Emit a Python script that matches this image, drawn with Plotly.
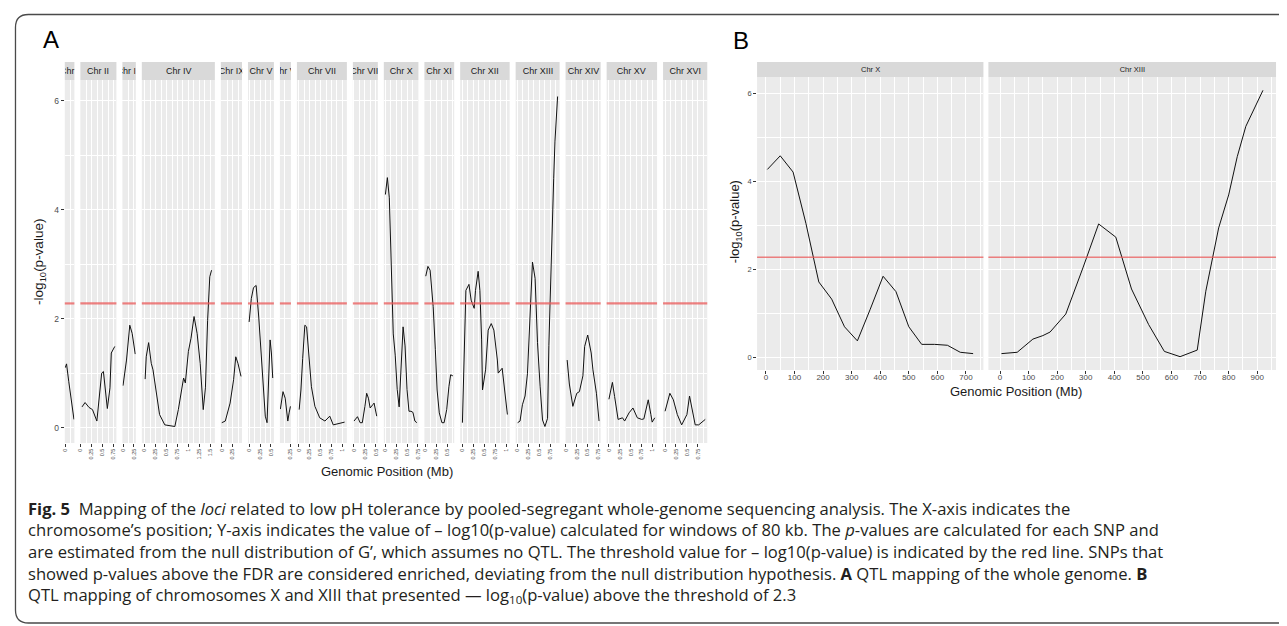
import plotly.graph_objects as go

W, H = 1287, 626
OFF = 8                      # the page body has an 8 px margin
FW, FH = W - OFF, H - OFF    # figure size so the page is exactly filled

# ---------------- data (panel A: position in Mb, value = -log10(p)) ----------------
chromosomes = ["Chr I", "Chr II", "Chr III", "Chr IV", "Chr IX", "Chr V", "Chr VI", "Chr VII",
               "Chr VIII", "Chr X", "Chr XI", "Chr XII", "Chr XIII", "Chr XIV", "Chr XV", "Chr XVI"]

chrI_pos = [0.00, 0.03, 0.08, 0.14, 0.20]
chrI_val = [1.10, 1.17, 0.85, 0.45, 0.15]

chrII_pos = [0.03, 0.10, 0.19, 0.27, 0.37, 0.43, 0.48, 0.52, 0.57, 0.61, 0.67, 0.70, 0.78]
chrII_val = [0.38, 0.46, 0.37, 0.33, 0.12, 0.55, 1.00, 1.03, 0.64, 0.35, 0.73, 1.37, 1.49]

chrIII_pos = [0.00, 0.04, 0.08, 0.155, 0.21, 0.28]
chrIII_val = [0.77, 0.98, 1.24, 1.88, 1.73, 1.35]

chrIV_pos = [0.01, 0.035, 0.09, 0.15, 0.19, 0.27, 0.34, 0.46, 0.62, 0.69, 0.77, 0.85, 0.89, 0.93,
             1.00, 1.06, 1.13, 1.20, 1.27, 1.34, 1.39, 1.44, 1.49, 1.53]
chrIV_val = [0.89, 1.30, 1.56, 1.18, 1.06, 0.57, 0.24, 0.05, 0.02, 0.02, 0.33, 0.75, 0.91, 0.82,
             1.40, 1.64, 2.04, 1.73, 1.18, 0.33, 0.73, 1.97, 2.77, 2.89]

chrIX_pos = [0.00, 0.08, 0.19, 0.27, 0.32, 0.37, 0.44]
chrIX_val = [0.09, 0.12, 0.45, 0.88, 1.30, 1.18, 0.94]

chrV_pos = [0.00, 0.05, 0.10, 0.16, 0.22, 0.30, 0.37, 0.41, 0.45, 0.48, 0.51, 0.54]
chrV_val = [1.94, 2.37, 2.57, 2.61, 2.03, 1.00, 0.21, 0.09, 0.88, 1.61, 1.37, 0.91]

chrVI_pos = [0.02, 0.08, 0.13, 0.19, 0.22, 0.25]
chrVI_val = [0.34, 0.66, 0.54, 0.12, 0.27, 0.39]

chrVII_pos = [0.01, 0.05, 0.09, 0.14, 0.18, 0.23, 0.29, 0.37, 0.48, 0.60, 0.71, 0.79, 0.90, 1.05]
chrVII_val = [0.33, 0.69, 1.27, 1.88, 1.85, 1.31, 0.75, 0.39, 0.18, 0.12, 0.21, 0.05, 0.07, 0.10]

chrVIII_pos = [0.00, 0.08, 0.14, 0.19, 0.25, 0.29, 0.33, 0.37, 0.43, 0.46, 0.52]
chrVIII_val = [0.12, 0.20, 0.09, 0.09, 0.39, 0.63, 0.54, 0.36, 0.42, 0.45, 0.21]

# chromosome X and XIII (also shown in panel B, position in kb as plotted there)
chrX_kb = [5, 50, 95, 140, 185, 230, 275, 320, 365, 410, 455, 500, 545, 590, 635, 680, 725]
chrX_val = [4.28, 4.59, 4.22, 3.05, 1.72, 1.33, 0.70, 0.38, 1.10, 1.85, 1.50, 0.70, 0.30, 0.30,
            0.28, 0.12, 0.09]

chrXI_pos = [0.01, 0.06, 0.11, 0.18, 0.23, 0.27, 0.32, 0.38, 0.43, 0.49, 0.54, 0.58, 0.63]
chrXI_val = [2.78, 2.96, 2.89, 2.22, 1.43, 0.69, 0.27, 0.09, 0.09, 0.33, 0.75, 0.97, 0.95]

chrXII_pos = [0.00, 0.08, 0.15, 0.20, 0.27, 0.30, 0.36, 0.40, 0.44, 0.46, 0.53, 0.59, 0.66, 0.72,
              0.80, 0.82, 0.91, 0.97, 1.03]
chrXII_val = [0.09, 2.52, 2.63, 2.34, 2.19, 2.52, 2.87, 2.52, 1.61, 0.69, 1.06, 1.79, 1.91, 1.79,
              1.24, 1.00, 1.09, 0.63, 0.24]

chrXIII_kb = [5, 60, 115, 150, 175, 230, 290, 345, 405, 460, 520, 575, 630, 690, 720, 765, 800,
              830, 860, 885, 920]
chrXIII_val = [0.09, 0.12, 0.42, 0.50, 0.58, 0.99, 2.04, 3.04, 2.74, 1.56, 0.75, 0.14, 0.02, 0.17,
               1.51, 2.95, 3.70, 4.57, 5.26, 5.60, 6.08]

chrXIV_pos = [0.03, 0.08, 0.16, 0.25, 0.31, 0.39, 0.43, 0.50, 0.58, 0.62, 0.70, 0.76]
chrXIV_val = [1.24, 0.80, 0.39, 0.63, 0.66, 0.95, 1.49, 1.70, 1.37, 1.06, 0.63, 0.12]

chrXV_pos = [0.00, 0.08, 0.13, 0.21, 0.31, 0.36, 0.46, 0.55, 0.65, 0.75, 0.80, 0.90, 0.96, 0.99, 1.05]
chrXV_val = [0.52, 0.83, 0.57, 0.15, 0.18, 0.12, 0.27, 0.36, 0.18, 0.15, 0.16, 0.51, 0.24, 0.10, 0.18]

chrXVI_pos = [0.00, 0.11, 0.19, 0.28, 0.38, 0.50, 0.56, 0.61, 0.69, 0.77, 0.84, 0.92]
chrXVI_val = [0.30, 0.63, 0.51, 0.24, 0.05, 0.24, 0.58, 0.39, 0.05, 0.05, 0.10, 0.15]

threshold = 2.28

panelB_chromosomes = ["Chr X", "Chr XIII"]

caption_lines = [
    "<b>Fig. 5</b>  Mapping of the <i>loci</i> related to low pH tolerance by pooled-segregant whole-genome sequencing analysis. The X-axis indicates the",
    "chromosome’s position; Y-axis indicates the value of – log10(p-value) calculated for windows of 80 kb. The <i>p</i>-values are calculated for each SNP and",
    "are estimated from the null distribution of G’, which assumes no QTL. The threshold value for – log10(p-value) is indicated by the red line. SNPs that",
    "showed p-values above the FDR are considered enriched, deviating from the null distribution hypothesis. <b>A</b> QTL mapping of the whole genome. <b>B</b>",
    "QTL mapping of chromosomes X and XIII that presented — log<sub>10</sub>(p-value) above the threshold of 2.3",
]

panelA_series = [
    (chrI_pos, chrI_val), (chrII_pos, chrII_val), (chrIII_pos, chrIII_val), (chrIV_pos, chrIV_val),
    (chrIX_pos, chrIX_val), (chrV_pos, chrV_val), (chrVI_pos, chrVI_val), (chrVII_pos, chrVII_val),
    (chrVIII_pos, chrVIII_val), ([v / 1000 for v in chrX_kb], chrX_val), (chrXI_pos, chrXI_val),
    (chrXII_pos, chrXII_val), ([v / 1000 for v in chrXIII_kb], chrXIII_val),
    (chrXIV_pos, chrXIV_val), (chrXV_pos, chrXV_val), (chrXVI_pos, chrXVI_val),
]
panelB_series = [(chrX_kb, chrX_val), (chrXIII_kb, chrXIII_val)]

# ---------------- helpers (page pixel -> paper coordinates) ----------------
def px(x):
    return (x - OFF) / FW


def py(y):
    return 1 - (y - OFF) / FH


FONT = "Liberation Sans, Arial, sans-serif"
GRID = "white"
BG = "#EBEBEB"
STRIP = "#D9D9D9"
TICKC = "#4D4D4D"

fig = go.Figure()
layout = {}
shapes = []
annotations = []


def expanded(lo, hi):
    r = hi - lo
    return [lo - 0.05 * r, hi + 0.05 * r]


def build_row(series, names, left, right, gap, top, bot, strip_top, first_index,
              xopts, yopts, strip_font, thr_width, line_width):
    exts = [max(s[0]) - min(s[0]) for s in series]
    total = right - left - gap * (len(series) - 1)
    scale = total / sum(e * 1.1 for e in exts)
    allv = [v for s in series for v in s[1]]
    yr = expanded(min(allv), max(allv))
    cur = left
    for k, ((xs, ys), name, e) in enumerate(zip(series, names, exts)):
        idx = first_index + k
        xn = "x" if idx == 1 else f"x{idx}"
        yn = "y" if idx == 1 else f"y{idx}"
        xk = "xaxis" if idx == 1 else f"xaxis{idx}"
        yk = "yaxis" if idx == 1 else f"yaxis{idx}"
        w = e * 1.1 * scale
        l, r = cur, cur + w
        cur = r + gap
        layout[xk] = dict(domain=[px(l), px(r)], range=expanded(min(xs), max(xs)), anchor=yn,
                          showgrid=True, gridcolor=GRID, zeroline=False, showline=False,
                          ticks="outside", tickcolor="#333333", fixedrange=True, **xopts)
        first = (k == 0)
        layout[yk] = dict(domain=[py(bot), py(top)], range=yr, anchor=xn,
                          showgrid=True, gridcolor=GRID, zeroline=False, showline=False,
                          tickmode="linear", tick0=0, dtick=2,
                          ticks="outside" if first else "", showticklabels=first,
                          tickcolor="#333333", fixedrange=True, **yopts)
        fig.add_trace(go.Scatter(x=xs, y=ys, mode="lines", xaxis=xn, yaxis=yn,
                                 line=dict(color="#111111", width=line_width),
                                 showlegend=False, hoverinfo="skip"))
        shapes.append(dict(type="line", xref=f"{xn} domain", yref=yn, x0=0, x1=1,
                           y0=threshold, y1=threshold, layer="above",
                           line=dict(color="rgba(235,90,90,0.75)", width=thr_width)))
        shapes.append(dict(type="rect", xref="paper", yref="paper", x0=px(l), x1=px(r),
                           y0=py(top), y1=py(strip_top), fillcolor=STRIP, line=dict(width=0),
                           layer="below"))
        annotations.append(dict(text=name, xref="paper", yref="paper", x=px((l + r) / 2),
                                y=py((top + strip_top) / 2), xanchor="center", yanchor="middle",
                                showarrow=False, width=max(r - l, 1), borderpad=0,
                                font=dict(family=FONT, size=strip_font, color="#1A1A1A")))


# panel A
build_row(panelA_series, chromosomes, left=62, right=707, gap=6, top=80, bot=443, strip_top=62,
          first_index=1,
          xopts=dict(tickmode="linear", tick0=0, dtick=0.25, tickangle=-90, ticklen=2.5,
                     tickwidth=0.8, gridwidth=0.9,
                     tickfont=dict(family=FONT, size=5.5, color=TICKC),
                     minor=dict(tick0=0, dtick=0.125, showgrid=True, gridcolor=GRID, gridwidth=0.45)),
          yopts=dict(ticklen=3, tickwidth=0.8, gridwidth=1,
                     tickfont=dict(family=FONT, size=8.5, color=TICKC),
                     minor=dict(tick0=0, dtick=1, showgrid=True, gridcolor=GRID, gridwidth=0.5)),
          strip_font=9, thr_width=2.2, line_width=1.0)

# panel B
build_row(panelB_series, panelB_chromosomes, left=757, right=1278, gap=5, top=77, bot=370,
          strip_top=62, first_index=17,
          xopts=dict(tickmode="linear", tick0=0, dtick=100, ticklen=2.5, tickwidth=0.8,
                     gridwidth=1.1, ticklabelstandoff=-3,
                     tickfont=dict(family=FONT, size=8, color=TICKC),
                     minor=dict(tick0=0, dtick=50, showgrid=True, gridcolor=GRID, gridwidth=0.55)),
          yopts=dict(ticklen=3, tickwidth=0.8, gridwidth=1.1,
                     tickfont=dict(family=FONT, size=7.5, color=TICKC),
                     minor=dict(tick0=0, dtick=1, showgrid=True, gridcolor=GRID, gridwidth=0.55)),
          strip_font=7.5, thr_width=1.5, line_width=1.0)


# titles / labels
def label(text, x, y, size, angle=0, family=FONT, color="#1A1A1A", xanchor="center"):
    annotations.append(dict(text=text, xref="paper", yref="paper", x=px(x), y=py(y),
                            xanchor=xanchor, yanchor="middle", showarrow=False, textangle=angle,
                            font=dict(family=family, size=size, color=color)))


label("A", 48, 39, 24, color="#000000")
label("B", 741, 41, 24, color="#000000")
label("Genomic Position (Mb)", 385, 471, 13)
label("Genomic Position (Mb)", 1017, 391, 13)
label("-log<sub>10</sub>(p-value)", 36, 262, 13.5, angle=-90)
label("-log<sub>10</sub>(p-value)", 735, 222, 13, angle=-90)

for i, line in enumerate(caption_lines):
    label(line, 23, 508 + 21.7 * i, 16.6, family="Open Sans, Noto Sans, sans-serif",
          color="#231F20", xanchor="left")

# rounded outer frame (right side runs off the canvas)
L, T, B, R, rad = 12.5, 14.5, 623, 1310, 13
frame = (f"M {px(R)},{py(T)} L {px(L + rad)},{py(T)} Q {px(L)},{py(T)} {px(L)},{py(T + rad)} "
         f"L {px(L)},{py(B - rad)} Q {px(L)},{py(B)} {px(L + rad)},{py(B)} L {px(R)},{py(B)}")
shapes.append(dict(type="path", xref="paper", yref="paper", path=frame,
                   line=dict(color="#4A4A4A", width=1.3)))

fig.update_layout(width=FW, height=FH, autosize=False, margin=dict(l=0, r=0, t=0, b=0),
                  paper_bgcolor="white", plot_bgcolor=BG, shapes=shapes, annotations=annotations,
                  showlegend=False, **layout)

fig.write_html("out.html")
